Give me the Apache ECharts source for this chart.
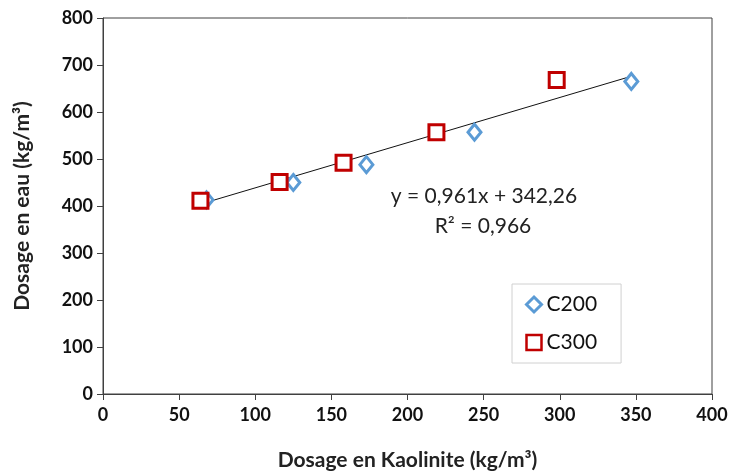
<!DOCTYPE html>
<html><head><meta charset="utf-8">
<script src="https://cdn.jsdelivr.net/npm/echarts@6/dist/echarts.min.js"></script>
<style>html,body{margin:0;padding:0;background:#fff}#c{width:729px;height:475px}</style>
</head><body><div id="c"></div>
<script>
const c200X = [68, 125, 173, 244, 347];
const c200Y = [413, 450, 488, 557, 665];
const c300X = [64, 116, 158, 219, 298];
const c300Y = [411, 451, 492, 557, 668];
const trendX = [64, 348];
const trendY = [404, 677];
const equationText = 'y = 0,961x + 342,26';
const r2Text = 'R² = 0,966';
const seriesNames = ['C200', 'C300'];

const zip = (a, b) => a.map((v, i) => [v, b[i]]);
const FONT = 'Lato, "Open Sans", sans-serif';
const chart = echarts.init(document.getElementById('c'), null, {renderer: 'canvas'});
chart.setOption({
  animation: false,
  backgroundColor: '#fff',
  grid: {left: 103, right: 17, top: 18, bottom: 81, show: true, borderColor: '#404040', borderWidth: 1, containLabel: false, outerBoundsMode: 'none'},
  xAxis: {
    type: 'value', min: 0, max: 400, interval: 50,
    name: 'Dosage en Kaolinite (kg/m³)', nameLocation: 'middle', nameGap: 56,
    nameTextStyle: {fontFamily: FONT, fontWeight: 'bold', fontSize: 21, color: '#222'},
    axisLine: {lineStyle: {color: '#404040'}},
    axisTick: {show: true, inside: false, length: 6, lineStyle: {color: '#404040'}},
    axisLabel: {fontFamily: FONT, fontWeight: 'bold', fontSize: 18, color: '#111', margin: 12},
    splitLine: {show: false}
  },
  yAxis: {
    type: 'value', min: 0, max: 800, interval: 100,
    name: 'Dosage en eau (kg/m³)', nameLocation: 'middle', nameGap: 70, nameRotate: 90,
    nameTextStyle: {fontFamily: FONT, fontWeight: 'bold', fontSize: 21, color: '#222'},
    axisLine: {show: true, lineStyle: {color: '#404040'}},
    axisTick: {show: true, inside: false, length: 6, lineStyle: {color: '#404040'}},
    axisLabel: {fontFamily: FONT, fontWeight: 'bold', fontSize: 18, color: '#111', margin: 10},
    splitLine: {show: false}
  },
  legend: {
    orient: 'vertical', left: 512, top: 284, width: 92, height: 79,
    padding: [10, 24, 10, 13], itemGap: 17,
    borderColor: '#d0d0d0', borderWidth: 1, backgroundColor: '#fff',
    itemWidth: 15, itemHeight: 15,
    textStyle: {fontFamily: FONT, fontSize: 21, color: '#111', padding: [0, 0, 0, 0]},
    data: [
      {name: seriesNames[0], icon: 'diamond', itemStyle: {color: '#fff', borderColor: '#5B9BD5', borderWidth: 3}},
      {name: seriesNames[1], icon: 'rect', itemStyle: {color: '#fff', borderColor: '#C00000', borderWidth: 2.5}}
    ]
  },
  series: [
    {
      name: 'trend', type: 'line', data: zip(trendX, trendY), symbol: 'none',
      lineStyle: {color: '#111', width: 1}, z: 1, silent: true
    },
    {
      name: seriesNames[0], type: 'scatter', data: zip(c200X, c200Y), symbol: 'diamond', symbolSize: [13, 16],
      itemStyle: {color: '#fff', borderColor: '#5B9BD5', borderWidth: 3, opacity: 1}, z: 3
    },
    {
      name: seriesNames[1], type: 'scatter', data: zip(c300X, c300Y), symbol: 'rect', symbolSize: [15, 15],
      itemStyle: {color: '#fff', borderColor: '#C00000', borderWidth: 3, opacity: 1}, z: 4
    }
  ],
  graphic: [
    {type: 'text', style: {text: equationText, x: 484, y: 196, align: 'center', verticalAlign: 'middle', font: '21px ' + FONT, fill: '#222'}},
    {type: 'text', style: {text: r2Text, x: 483, y: 226, align: 'center', verticalAlign: 'middle', font: '21px ' + FONT, fill: '#222'}}
  ]
});
</script></body></html>
